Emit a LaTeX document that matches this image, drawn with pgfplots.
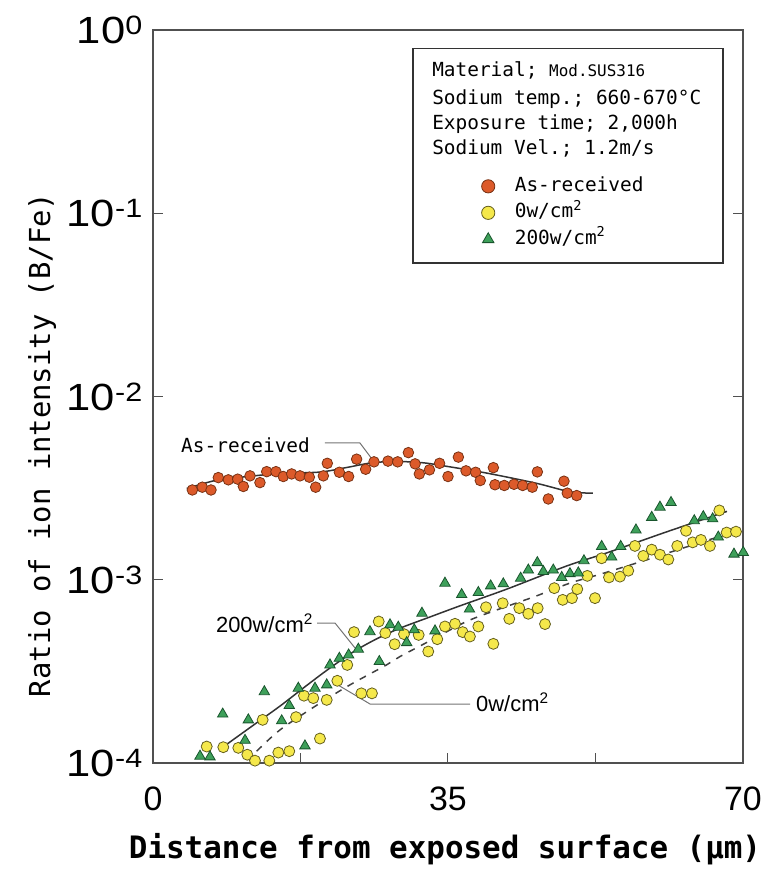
\documentclass[border=0pt]{standalone}
\usepackage{fontspec}
\setmainfont{Liberation Sans}
\newfontfamily\monofont{DejaVu Sans Mono}
\usepackage{graphicx}
\usepackage{pgfplots}
\pgfplotsset{compat=1.18}

\definecolor{orfill}{RGB}{220,90,42}
\definecolor{ordraw}{RGB}{120,50,20}
\definecolor{yefill}{RGB}{245,232,75}
\definecolor{yedraw}{RGB}{100,95,30}
\definecolor{grfill}{RGB}{62,160,90}
\definecolor{grdraw}{RGB}{25,85,45}
\definecolor{frame}{RGB}{80,80,80}

\pgfplotstableread{
x y
4.67 3.09e-3
5.85 3.20e-3
6.88 3.09e-3
7.75 3.61e-3
8.94 3.51e-3
10.05 3.54e-3
10.72 3.23e-3
11.51 3.69e-3
12.69 3.39e-3
13.49 3.89e-3
14.59 3.89e-3
15.46 3.66e-3
16.45 3.78e-3
17.44 3.69e-3
18.55 3.63e-3
19.30 3.20e-3
20.21 3.69e-3
20.68 4.32e-3
22.11 3.86e-3
23.21 3.66e-3
24.16 4.55e-3
25.23 4.01e-3
26.22 4.40e-3
27.88 4.44e-3
29.03 4.40e-3
30.30 4.94e-3
31.10 4.29e-3
31.60 3.78e-3
32.80 3.98e-3
34.00 4.32e-3
35.00 3.66e-3
36.23 4.67e-3
37.14 3.93e-3
38.28 3.86e-3
38.83 3.48e-3
40.38 4.09e-3
40.57 3.30e-3
41.68 3.27e-3
42.83 3.32e-3
43.86 3.27e-3
45.00 3.20e-3
45.60 3.88e-3
46.90 2.76e-3
48.76 3.45e-3
49.15 2.97e-3
50.27 2.88e-3
}\asrec

\pgfplotstableread{
x y
6.37 1.23e-4
8.34 1.22e-4
10.12 1.21e-4
11.19 1.11e-4
12.10 1.03e-4
13.01 1.72e-4
13.80 1.03e-4
14.87 1.14e-4
16.17 1.16e-4
16.97 1.78e-4
17.91 2.33e-4
19.02 2.26e-4
19.81 1.36e-4
20.61 2.21e-4
21.87 2.81e-4
23.05 3.43e-4
23.85 5.18e-4
24.72 2.40e-4
25.98 2.40e-4
26.78 5.92e-4
27.56 5.12e-4
28.67 4.45e-4
29.78 5.05e-4
31.52 5.00e-4
32.66 4.06e-4
33.73 4.74e-4
34.64 5.56e-4
35.83 5.75e-4
36.74 5.18e-4
37.60 4.90e-4
38.60 5.56e-4
39.51 7.08e-4
40.38 4.47e-4
41.49 7.45e-4
42.27 6.12e-4
43.46 7.00e-4
44.53 6.52e-4
45.64 7.00e-4
46.51 5.73e-4
47.61 9.00e-4
48.61 7.77e-4
49.71 7.94e-4
50.34 8.89e-4
51.53 1.05e-3
52.44 7.94e-4
53.23 1.31e-3
54.10 1.03e-3
55.40 1.04e-3
56.39 1.12e-3
57.18 1.53e-3
58.17 1.35e-3
59.17 1.46e-3
60.15 1.37e-3
61.14 1.29e-3
62.20 1.53e-3
63.24 1.85e-3
64.03 1.60e-3
65.01 1.65e-3
66.08 1.53e-3
67.19 2.39e-3
68.06 1.81e-3
69.17 1.83e-3
}\zerow

\pgfplotstableread{
x y
5.58 1.09e-4
6.76 1.08e-4
8.27 1.85e-4
10.92 1.33e-4
11.31 1.72e-4
13.21 2.45e-4
15.27 1.70e-4
16.17 2.06e-4
17.24 2.56e-4
18.03 1.24e-4
19.22 2.56e-4
20.61 2.67e-4
21.00 3.43e-4
22.11 3.73e-4
23.21 3.89e-4
24.36 4.18e-4
25.74 5.21e-4
26.85 3.58e-4
28.12 5.68e-4
29.10 5.51e-4
30.10 4.54e-4
31.00 5.33e-4
31.91 6.57e-4
33.46 5.26e-4
34.64 9.58e-4
36.62 8.30e-4
37.55 6.92e-4
38.60 8.52e-4
40.06 9.26e-4
41.56 9.50e-4
43.62 1.02e-3
44.53 1.13e-3
45.60 1.24e-3
46.31 1.11e-3
47.49 1.13e-3
48.49 1.03e-3
49.47 1.08e-3
50.46 1.09e-3
51.13 1.27e-3
53.23 1.52e-3
54.42 1.33e-3
55.49 1.52e-3
57.30 1.87e-3
59.17 2.19e-3
60.15 2.49e-3
61.46 2.64e-3
64.22 2.10e-3
65.29 2.21e-3
66.40 2.15e-3
67.07 1.71e-3
68.93 1.38e-3
70.03 1.41e-3
}\twohw

\begin{document}
\begin{tikzpicture}
\begin{axis}[
  name=ax,
  scale only axis, width=590bp, height=733bp,
  ymode=log, xmin=0, xmax=70, ymin=1e-4, ymax=1,
  clip=false,
  axis line style={draw=frame, line width=1.3bp},
  tick style={draw=frame, line width=1bp},
  tick align=inside, major tick length=10bp,
  xtick pos=left, ytick pos=both,
  xtick={0,17.5,35,52.5,70}, xticklabels={0,,35,,70},
  ytick={1e-4,1e-3,1e-2,1e-1,1},
  yticklabels={
    \scalebox{1.15}[1]{10\textsuperscript{-4}},
    \scalebox{1.15}[1]{10\textsuperscript{-3}},
    \scalebox{1.15}[1]{10\textsuperscript{-2}},
    \scalebox{1.15}[1]{10\textsuperscript{-1}},
    \scalebox{1.15}[1]{10\textsuperscript{0}}},
  yminorticks=false,
  xticklabel style={font=\fontsize{34}{34}\selectfont, anchor=base, inner sep=0pt, yshift=-47bp},
  yticklabel style={font=\fontsize{38}{38}\selectfont, anchor=base east, inner sep=0pt, xshift=-10bp, yshift=-13.5bp},
  xlabel={\bfseries Distance from exposed surface (μm)},
  xlabel style={font=\monofont\fontsize{31}{31}\selectfont, at={(rel axis cs:0.495,0)}, anchor=base, inner sep=0pt, yshift=-95bp},
  ylabel={Ratio of ion intensity (B/Fe)},
  ylabel style={font=\monofont\fontsize{29}{29}\selectfont, at={(rel axis cs:-0.188,0.434)}, anchor=center, inner sep=0pt},
  legend style={at={(rel axis cs:0.5570,0.7990)}, anchor=north west, draw=none, fill=none, inner sep=0pt, outer sep=0pt,
    font=\monofont\fontsize{19.5}{19.5}\selectfont, row sep=8.5bp,
    nodes={inner sep=0pt, text height=14bp, text depth=4bp},
    /tikz/every odd column/.append style={column sep=20bp}},
  legend image post style={mark size=6.6bp},
  legend cell align=left,
]
\draw[black!80, line width=1.2bp, fill=white] (rel axis cs:0.4407,0.682) rectangle (rel axis cs:0.966,0.975);
\node[anchor=base west, inner sep=0pt, font=\monofont\fontsize{19.5}{19.5}\selectfont] at (rel axis cs:0.473,0.9359) {Material;\ {\fontsize{16}{16}\selectfont Mod.SUS316}};
\node[anchor=base west, inner sep=0pt, font=\monofont\fontsize{19.5}{19.5}\selectfont] at (rel axis cs:0.473,0.8990) {Sodium temp.; 660-670°C};
\node[anchor=base west, inner sep=0pt, font=\monofont\fontsize{19.5}{19.5}\selectfont] at (rel axis cs:0.473,0.8636) {Exposure time; 2,000h};
\node[anchor=base west, inner sep=0pt, font=\monofont\fontsize{19.5}{19.5}\selectfont] at (rel axis cs:0.473,0.8295) {Sodium Vel.; 1.2m/s};

\addplot[only marks, mark=*, mark size=5.3bp, mark options={fill=orfill, draw=ordraw, line width=0.8bp}] table[x=x,y=y] {\asrec};
\addlegendentry{As-received}
\addplot[only marks, mark=*, mark size=5.5bp, mark options={fill=yefill, draw=yedraw, line width=0.8bp}] table[x=x,y=y] {\zerow};
\addlegendentry{0w/cm\textsuperscript{2}}
\addplot[only marks, mark=triangle*, mark size=6bp, mark options={fill=grfill, draw=grdraw, line width=0.8bp}] table[x=x,y=y] {\twohw};
\addlegendentry{200w/cm\textsuperscript{2}}

\addplot[forget plot, smooth, black!80, line width=1.5bp] coordinates {
(4.0,3.15e-3)(7.6,3.5e-3)(11,3.65e-3)(15,3.8e-3)(19.8,3.87e-3)(23,4.1e-3)(26,4.35e-3)(29,4.42e-3)(32,4.35e-3)(34,4.22e-3)(39.6,3.82e-3)(45.5,3.36e-3)(49.5,3.02e-3)(52.2,2.97e-3)};
\addplot[forget plot, smooth, black!80, line width=1.5bp] coordinates {
(8.7,1.26e-4)(12,1.62e-4)(15.1,2.05e-4)(18,2.6e-4)(20.8,3.25e-4)(23.8,4.05e-4)(26.5,4.75e-4)(29.3,5.44e-4)(33,6.3e-4)(36.4,7.2e-4)(42,8.9e-4)(49.1,1.19e-3)(54,1.41e-3)(61,1.83e-3)(68.1,2.36e-3)};
\addplot[forget plot, smooth, black!75, line width=1.5bp, dash pattern=on 7bp off 7bp] coordinates {
(12.3,1.16e-4)(15.1,1.52e-4)(19.8,2.12e-4)(23.5,2.69e-4)(27.7,3.43e-4)(29.3,3.81e-4)(33,4.68e-4)(37.2,5.92e-4)(41,6.9e-4)(45.3,8.1e-4)(49.5,9.6e-4)(53,1.07e-3)(58,1.26e-3)(62.9,1.49e-3)(67,1.71e-3)};

\node[anchor=west, inner sep=0pt, font=\monofont\fontsize{19.5}{19.5}\selectfont] at (rel axis cs:0.0475,0.4338) {As-received};
\draw[black!55, line width=1bp] (rel axis cs:0.2915,0.4366) -- (rel axis cs:0.3508,0.4366) -- (rel axis cs:0.3712,0.4147);
\node[anchor=east, inner sep=0pt, font=\fontsize{22}{22}\selectfont] at (rel axis cs:0.2712,0.1910) {200w/cm\textsuperscript{2}};
\draw[black!55, line width=1bp] (rel axis cs:0.278,0.191) -- (rel axis cs:0.3085,0.191) -- (rel axis cs:0.3424,0.1569);
\node[anchor=west, inner sep=0pt, font=\fontsize{22}{22}\selectfont] at (rel axis cs:0.5475,0.0832) {0w/cm\textsuperscript{2}};
\draw[black!55, line width=1bp] (rel axis cs:0.3136,0.1064) -- (rel axis cs:0.3678,0.0805) -- (rel axis cs:0.5373,0.0805);
\end{axis}
\pgfresetboundingbox
\path ([xshift=-153bp,yshift=-112bp]ax.south west) rectangle ([xshift=26bp,yshift=30bp]ax.north east);
\end{tikzpicture}
\end{document}
